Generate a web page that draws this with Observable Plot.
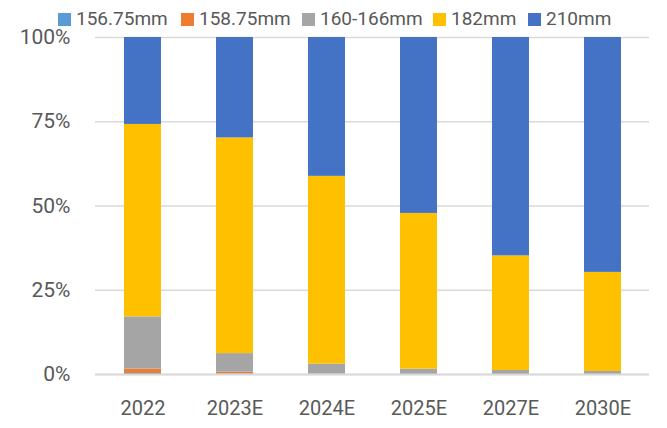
<!DOCTYPE html>
<html>
<head>
<meta charset="utf-8">
<script src="https://cdn.jsdelivr.net/npm/d3@7"></script>
<script src="https://cdn.jsdelivr.net/npm/@observablehq/plot@0.6"></script>
<style>
  html, body { margin: 0; padding: 0; background: #fff; }
  #wrap { position: relative; width: 667px; height: 428px; font-family: Roboto, "Noto Sans", sans-serif; }
  #legend { position: absolute; top: 0; left: 0; width: 667px; height: 36px; font-size: 19px; color: #595959; z-index: 2; white-space: nowrap; }
  #legend .item { position: absolute; top: 7px; display: flex; align-items: center; gap: 5px; line-height: 24px; }
  #legend .sw { width: 13px; height: 13px; display: inline-block; }
</style>
</head>
<body>
<div id="wrap"><div id="legend"></div><div id="chart"></div></div>
<script>
const years = ["2022", "2023E", "2024E", "2025E", "2027E", "2030E"];
const sizes = ["156.75mm", "158.75mm", "160-166mm", "182mm", "210mm"];
const colors = ["#5B9BD5", "#ED7D31", "#A5A5A5", "#FFC000", "#4472C4"];
const s156 = [0.3, 0.2, 0.0, 0.0, 0.0, 0.0];
const s158 = [1.3, 0.5, 0.1, 0.0, 0.0, 0.0];
const s160 = [15.5, 5.5, 3.0, 1.6, 1.2, 0.9];
const s182 = [57.1, 64.0, 55.7, 46.2, 34.0, 29.4];
const s210 = [25.8, 29.8, 41.2, 52.2, 64.8, 69.7];
const yTicks = [0, 25, 50, 75, 100];

const series = [s156, s158, s160, s182, s210];
const data = [];
years.forEach((yr, i) => sizes.forEach((sz, j) => data.push({year: yr, size: sz, value: series[j][i]})));

// legend item left edges (layout only)
const legendLeft = [58, 181, 302, 433, 528];
const legend = document.getElementById("legend");
sizes.forEach((s, i) => {
  const it = document.createElement("div");
  it.className = "item";
  it.style.left = legendLeft[i] + "px";
  it.innerHTML = `<span class="sw" style="background:${colors[i]}"></span><span>${s}</span>`;
  legend.appendChild(it);
});

const chart = Plot.plot({
  width: 667,
  height: 428,
  marginTop: 37,
  marginBottom: 54,
  marginLeft: 95,
  marginRight: 18,
  style: {fontFamily: "Roboto, 'Noto Sans', sans-serif", fontSize: "20px", color: "#595959", background: "transparent"},
  x: {domain: years, paddingInner: 0.6, paddingOuter: 0.3, label: null},
  y: {domain: [0, 100], label: null},
  color: {domain: sizes, range: colors},
  marks: [
    Plot.gridY(yTicks, {stroke: "#d9d9d9", strokeOpacity: 1, strokeWidth: 1.5}),
    Plot.barY(data, Plot.stackY({x: "year", y: "value", fill: "size", order: sizes})),
    Plot.ruleY([0], {stroke: "#d9d9d9", strokeWidth: 2}),
    Plot.axisY(yTicks, {tickSize: 0, tickPadding: 25, tickFormat: d => d + "%", fill: "#595959", fontSize: 21}),
    Plot.axisX({tickSize: 0, tickPadding: 26, fill: "#595959", fontSize: 20})
  ]
});
document.getElementById("chart").appendChild(chart);
</script>
</body>
</html>
